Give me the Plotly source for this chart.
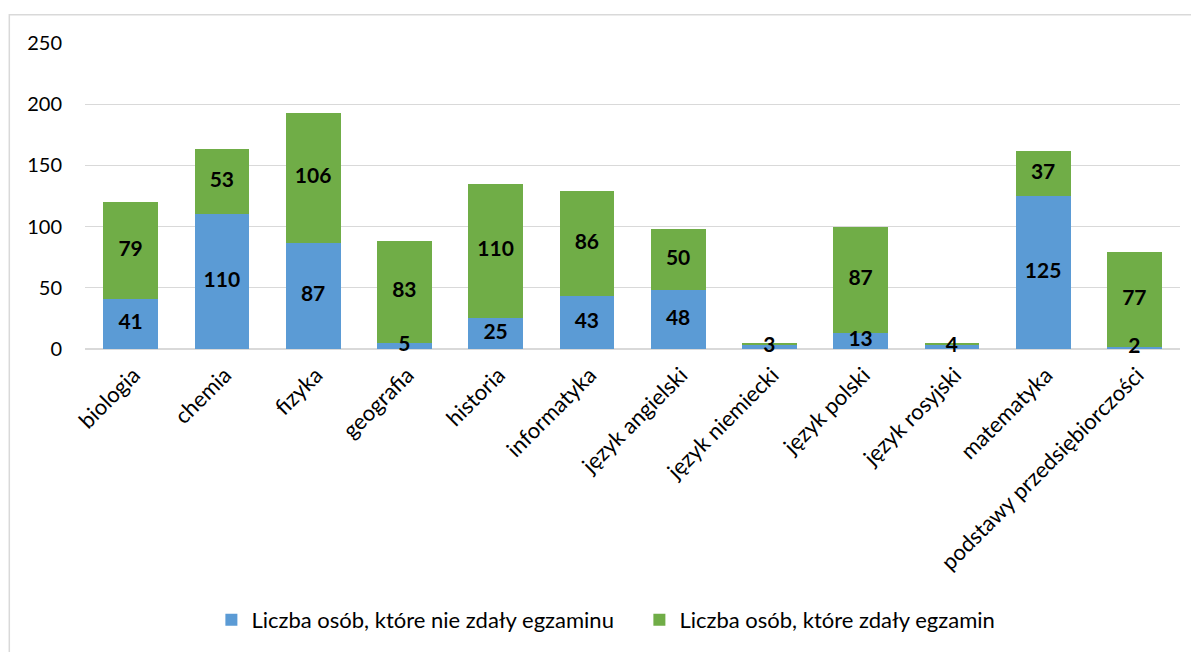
import plotly.graph_objects as go

categories = ["biologia", "chemia", "fizyka", "geografia", "historia", "informatyka",
              "język angielski", "język niemiecki", "język polski", "język rosyjski",
              "matematyka", "podstawy przedsiębiorczości"]
failed = [41, 110, 87, 5, 25, 43, 48, 3, 13, 4, 125, 2]
passed = [79, 53, 106, 83, 110, 86, 50, 2, 87, 1, 37, 77]
name_failed = "Liczba osób, które nie zdały egzaminu"
name_passed = "Liczba osób, które zdały egzamin"
yticks = [0, 50, 100, 150, 200, 250]

BLUE = "#5B9BD5"
GREEN = "#70AD47"
FONT = "Lato"

fig = go.Figure()
fig.add_trace(go.Bar(x=categories, y=failed, name=name_failed, marker_color=BLUE,
                     marker_line_width=0, hoverinfo="y"))
fig.add_trace(go.Bar(x=categories, y=passed, name=name_passed, marker_color=GREEN,
                     marker_line_width=0, hoverinfo="y"))

# data labels centred in each segment
lab_x, lab_y, lab_t = [], [], []
for c, f, p in zip(categories, failed, passed):
    lab_x.append(c); lab_y.append(f / 2); lab_t.append(str(f))
    if p >= 3:
        lab_x.append(c); lab_y.append(f + p / 2); lab_t.append(str(p))
fig.add_trace(go.Scatter(x=lab_x, y=lab_y, text=lab_t, mode="text", showlegend=False,
                         textfont=dict(family=FONT, size=21, color="black", weight="bold"),
                         hoverinfo="skip", cliponaxis=False))

OFF = 8  # default page body margin
W, H = 1199, 652
L, R = 84.5 - OFF, 1180.5 - OFF
T, B = 43 - OFF, 349 - OFF
pw, ph = R - L, B - T

def px_x(x):
    return (x - OFF - L) / pw

def px_y(y):
    return (B - (y - OFF)) / ph

fig.add_shape(type="rect", xref="paper", yref="paper",
              x0=px_x(8.75), x1=px_x(1230), y0=px_y(700), y1=px_y(14.75),
              line=dict(color="#D9D9D9", width=1.5), fillcolor="rgba(0,0,0,0)", layer="below")

fig.update_layout(
    width=W, height=H,
    margin=dict(l=L, r=W - R, t=T, b=H - B),
    barmode="stack", bargap=0.4,
    plot_bgcolor="white", paper_bgcolor="white",
    font=dict(family=FONT, size=22, color="#000000"),
    showlegend=True,
    legend=dict(orientation="h", x=px_x(211), xanchor="left", y=px_y(620), yanchor="middle",
                font=dict(family=FONT, size=22, color="#000000"), itemwidth=30,
                traceorder="normal", entrywidth=383, entrywidthmode="pixels"),
    xaxis=dict(range=[-0.5, len(categories) - 0.5], tickangle=-45, showgrid=False,
               showline=False, ticks="", automargin=False,
               ticklabelstandoff=8, ticklabelshift=3,
               tickfont=dict(family=FONT, size=22, color="#000000")),
    yaxis=dict(range=[0, 250], tickvals=yticks, showgrid=True, gridcolor="#D9D9D9",
               gridwidth=1, zeroline=True, zerolinecolor="#D9D9D9", zerolinewidth=1.5,
               showline=False, ticks="", ticklabelstandoff=22, automargin=False,
               tickfont=dict(family=FONT, size=20, color="#000000")),
)

fig.write_html("out.html")
